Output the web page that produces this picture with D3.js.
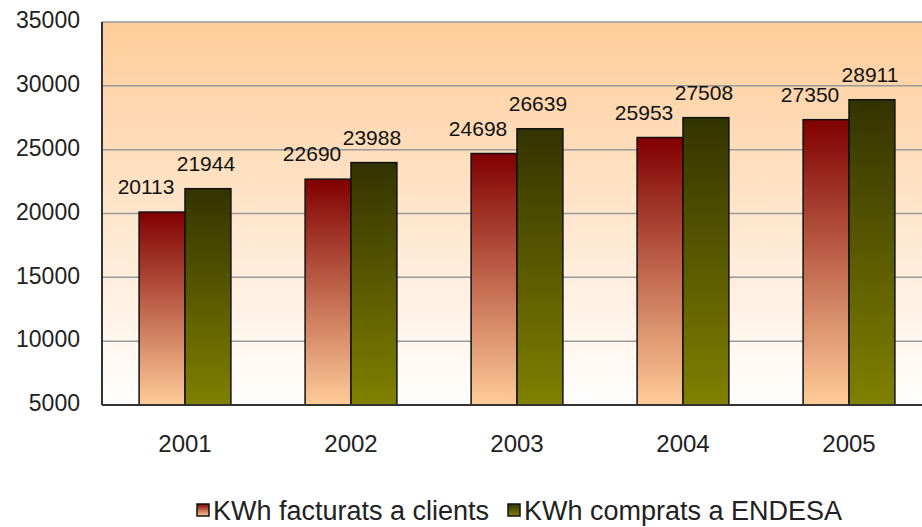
<!DOCTYPE html>
<html>
<head>
<meta charset="utf-8">
<script src="https://cdn.jsdelivr.net/npm/d3@7"></script>
<style>
  body { margin: 0; background: #fff; }
  svg { display: block; font-family: "Liberation Sans", Arial, sans-serif; }
</style>
</head>
<body>
<svg id="chart"></svg>
<script>
const years = ["2001", "2002", "2003", "2004", "2005"];
const seriesNames = ["KWh facturats a clients", "KWh comprats a ENDESA"];
const facturats = [20113, 22690, 24698, 25953, 27350];
const comprats = [21944, 23988, 26639, 27508, 28911];
const yTicks = [5000, 10000, 15000, 20000, 25000, 30000, 35000];

const width = 922, height = 527;
const plotL = 102, plotR = 932, plotT = 22, plotB = 405;

const svg = d3.select("#chart").attr("width", width).attr("height", height);
const defs = svg.append("defs");

// background of the plot: peach at top fading to white
const bg = defs.append("linearGradient").attr("id", "bg")
  .attr("x1", 0).attr("y1", 0).attr("x2", 0).attr("y2", 1);
bg.append("stop").attr("offset", "0%").attr("stop-color", "#ffcc99");
bg.append("stop").attr("offset", "100%").attr("stop-color", "#ffffff");

const grads = [["g0", "#800000", "#ffcc99"], ["g1", "#333300", "#808000"]];
grads.forEach(([id, c1, c2]) => {
  const g = defs.append("linearGradient").attr("id", id)
    .attr("x1", 0).attr("y1", 0).attr("x2", 0).attr("y2", 1);
  g.append("stop").attr("offset", "0%").attr("stop-color", c1);
  g.append("stop").attr("offset", "100%").attr("stop-color", c2);
});

const y = d3.scaleLinear().domain([5000, 35000]).range([plotB, plotT]);
const x0 = d3.scaleBand().domain(years).range([plotL, plotR])
  .paddingInner(0.447).paddingOuter(0.2235);
const x1 = d3.scaleBand().domain([0, 1]).range([0, x0.bandwidth()]);

svg.append("rect")
  .attr("x", plotL).attr("y", plotT)
  .attr("width", plotR - plotL).attr("height", plotB - plotT)
  .attr("fill", "url(#bg)");

// grid
svg.append("g").selectAll("line").data(yTicks).join("line")
  .attr("x1", plotL).attr("x2", plotR)
  .attr("y1", d => y(d)).attr("y2", d => y(d))
  .attr("stroke", "#999").attr("stroke-width", 1.5);

// y labels
const yAxis = svg.append("g").attr("transform", `translate(${plotL},0)`)
  .call(d3.axisLeft(y).tickValues(yTicks).tickSize(0).tickPadding(22).tickFormat(d3.format("d")));
yAxis.select(".domain").remove();
yAxis.selectAll("text").attr("font-size", 23).attr("fill", "#222")
  .attr("font-family", "Liberation Sans, Arial, sans-serif").attr("dy", "0.25em");

// x labels
const xAxis = svg.append("g").attr("transform", `translate(0,${plotB})`)
  .call(d3.axisBottom(x0).tickSize(0).tickPadding(30));
xAxis.select(".domain").remove();
xAxis.selectAll("text").attr("font-size", 24).attr("fill", "#222")
  .attr("font-family", "Liberation Sans, Arial, sans-serif");

const rows = years.map((yr, i) => ({ yr, vals: [facturats[i], comprats[i]] }));

const groups = svg.append("g").selectAll("g").data(rows).join("g")
  .attr("transform", d => `translate(${x0(d.yr)},0)`);

groups.selectAll("rect").data(d => d.vals.map((v, k) => ({ v, k }))).join("rect")
  .attr("x", d => x1(d.k))
  .attr("y", d => y(d.v))
  .attr("width", x1.bandwidth())
  .attr("height", d => y(5000) - y(d.v))
  .attr("fill", d => `url(#g${d.k})`)
  .attr("stroke", "#111").attr("stroke-width", 1.5);

groups.selectAll("text").data(d => d.vals.map((v, k) => ({ v, k }))).join("text")
  .attr("x", d => x1(d.k) + x1.bandwidth() / 2 - (d.k === 0 ? 16 : 2))
  .attr("y", d => y(d.v) - 18)
  .attr("text-anchor", "middle")
  .attr("font-size", 21).attr("fill", "#111")
  .text(d => d.v);

// axis lines
svg.append("line").attr("x1", plotL).attr("x2", plotL).attr("y1", plotT).attr("y2", plotB)
  .attr("stroke", "#333").attr("stroke-width", 2);
svg.append("line").attr("x1", plotL).attr("x2", plotR).attr("y1", plotB).attr("y2", plotB)
  .attr("stroke", "#333").attr("stroke-width", 2);

// legend
const legX = [197, 508];
const leg = svg.append("g").selectAll("g").data(seriesNames).join("g")
  .attr("transform", (d, i) => `translate(${legX[i]},504)`);
leg.append("rect").attr("width", 12).attr("height", 12)
  .attr("fill", (d, i) => `url(#g${i})`).attr("stroke", "#111").attr("stroke-width", 1.5);
leg.append("text").attr("x", 16).attr("y", 16)
  .attr("font-size", 27).attr("fill", "#222").text(d => d);
</script>
</body>
</html>
